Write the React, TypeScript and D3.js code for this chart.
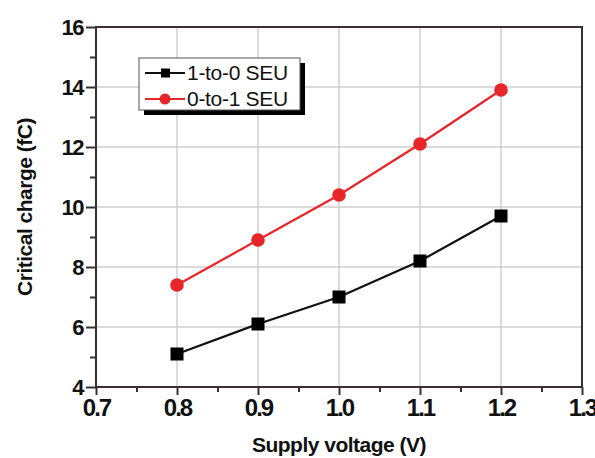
import React, { useEffect, useRef } from "react";
import * as d3 from "d3";

// data
const voltages = [0.8, 0.9, 1.0, 1.1, 1.2];
const seu10 = [5.1, 6.1, 7.0, 8.2, 9.7];
const seu01 = [7.4, 8.9, 10.4, 12.1, 13.9];
const xTicks = [0.7, 0.8, 0.9, 1.0, 1.1, 1.2, 1.3];
const yTicks = [4, 6, 8, 10, 12, 14, 16];
const seriesNames = ["1-to-0 SEU", "0-to-1 SEU"];

const W = 595;
const H = 458;
const RED = "#e8262a";

export default function App() {
  const ref = useRef<SVGSVGElement>(null);

  useEffect(() => {
    const svg = d3.select(ref.current);
    svg.selectAll("*").remove();

    const margin = { top: 27, right: 13, bottom: 71, left: 96 };
    const x = d3.scaleLinear().domain([0.7, 1.3]).range([margin.left, W - margin.right]);
    const y = d3.scaleLinear().domain([4, 16]).range([H - margin.bottom, margin.top]);
    const x0 = x(0.7), x1 = x(1.3), y0 = y(4), y1 = y(16);

    svg.append("rect").attr("width", W).attr("height", H).attr("fill", "#fff");

    // grid
    const g = svg.append("g");
    g.selectAll(".vg")
      .data(xTicks.slice(1, -1))
      .join("line")
      .attr("x1", d => x(d)).attr("x2", d => x(d))
      .attr("y1", y1).attr("y2", y0)
      .attr("stroke", "#cfcfcf").attr("stroke-width", 1.5);
    g.selectAll(".hg")
      .data(yTicks.slice(1, -1))
      .join("line")
      .attr("x1", x0).attr("x2", x1)
      .attr("y1", d => y(d)).attr("y2", d => y(d))
      .attr("stroke", "#cfcfcf").attr("stroke-width", 1.5);

    // axes (Origin style: outward ticks, minor ticks between)
    const xAxis = d3.axisBottom(x).tickValues(xTicks).tickSize(8).tickFormat(d3.format(".1f"));
    const xMinor = d3.axisBottom(x).tickValues(d3.range(0.75, 1.3, 0.1)).tickSize(5).tickFormat(() => "");
    const yAxis = d3.axisLeft(y).tickValues(yTicks).tickSize(10).tickFormat(d3.format("d"));
    const yMinor = d3.axisLeft(y).tickValues(d3.range(5, 16, 2)).tickSize(6).tickFormat(() => "");

    const gx = svg.append("g").attr("transform", `translate(0,${y0})`).call(xAxis);
    svg.append("g").attr("transform", `translate(0,${y0})`).call(xMinor);
    const gy = svg.append("g").attr("transform", `translate(${x0},0)`).call(yAxis);
    svg.append("g").attr("transform", `translate(${x0},0)`).call(yMinor);

    svg.selectAll(".domain").attr("stroke", "none");
    svg.selectAll(".tick line").attr("stroke", "#333").attr("stroke-width", 2);

    gx.selectAll("text")
      .attr("y", 12)
      .attr("dy", "0.71em")
      .attr("font-family", "Arial, 'Liberation Sans', sans-serif")
      .attr("font-weight", "bold")
      .attr("font-size", 24)
      .attr("letter-spacing", -2)
      .attr("fill", "#111");
    gy.selectAll("text")
      .attr("x", -13)
      .attr("dy", "0.36em")
      .attr("font-family", "Arial, 'Liberation Sans', sans-serif")
      .attr("font-weight", "bold")
      .attr("font-size", 22)
      .attr("letter-spacing", -1.5)
      .attr("fill", "#111");

    // frame
    svg.append("rect")
      .attr("x", x0).attr("y", y1)
      .attr("width", x1 - x0).attr("height", y0 - y1)
      .attr("fill", "none").attr("stroke", "#3a3030").attr("stroke-width", 2);

    // series
    const line = d3.line<number>()
      .x((d, i) => x(voltages[i]))
      .y(d => y(d));

    svg.append("path").datum(seu10).attr("d", line)
      .attr("fill", "none").attr("stroke", "#111").attr("stroke-width", 2.2);
    svg.append("path").datum(seu01).attr("d", line)
      .attr("fill", "none").attr("stroke", RED).attr("stroke-width", 2.2);

    svg.selectAll(".sq")
      .data(seu10)
      .join("rect")
      .attr("x", (d, i) => x(voltages[i]) - 6.5)
      .attr("y", d => y(d) - 6.5)
      .attr("width", 13).attr("height", 13)
      .attr("fill", "#000");
    svg.selectAll(".ci")
      .data(seu01)
      .join("circle")
      .attr("cx", (d, i) => x(voltages[i]))
      .attr("cy", d => y(d))
      .attr("r", 6.8)
      .attr("fill", RED);

    // legend
    const lg = svg.append("g").attr("transform", "translate(139,58)");
    lg.append("rect").attr("x", 5).attr("y", 5).attr("width", 161).attr("height", 52).attr("fill", "#000");
    lg.append("rect").attr("width", 161).attr("height", 52)
      .attr("fill", "#fff").attr("stroke", "#555").attr("stroke-width", 1);
    const rows = [
      { name: seriesNames[0], color: "#111", ry: 15 },
      { name: seriesNames[1], color: RED, ry: 41 },
    ];
    rows.forEach((r, i) => {
      lg.append("line").attr("x1", 6).attr("x2", 46).attr("y1", r.ry).attr("y2", r.ry)
        .attr("stroke", r.color).attr("stroke-width", 2);
      if (i === 0) {
        lg.append("rect").attr("x", 22).attr("y", r.ry - 4.5).attr("width", 9).attr("height", 9).attr("fill", "#000");
      } else {
        lg.append("circle").attr("cx", 26).attr("cy", r.ry).attr("r", 5.5).attr("fill", RED);
      }
      lg.append("text").attr("x", 48).attr("y", r.ry + 7)
        .attr("font-family", "Arial, 'Liberation Sans', sans-serif")
        .attr("font-size", 21)
        .attr("letter-spacing", -0.3)
        .attr("fill", "#111")
        .text(r.name);
    });

    // axis titles
    svg.append("text")
      .attr("x", (x0 + x1) / 2).attr("y", 452)
      .attr("text-anchor", "middle")
      .attr("font-family", "Arial, 'Liberation Sans', sans-serif")
      .attr("font-weight", "bold").attr("font-size", 21)
      .attr("letter-spacing", -0.5)
      .attr("fill", "#111")
      .text("Supply voltage (V)");
    svg.append("text")
      .attr("transform", `translate(32,${(y0 + y1) / 2}) rotate(-90)`)
      .attr("text-anchor", "middle")
      .attr("font-family", "Arial, 'Liberation Sans', sans-serif")
      .attr("font-weight", "bold").attr("font-size", 21)
      .attr("letter-spacing", -0.5)
      .attr("fill", "#111")
      .text("Critical charge (fC)");
  }, []);

  return (
    <svg ref={ref} width={W} height={H}
      style={{ position: "absolute", left: 0, top: 0, display: "block" }} />
  );
}
